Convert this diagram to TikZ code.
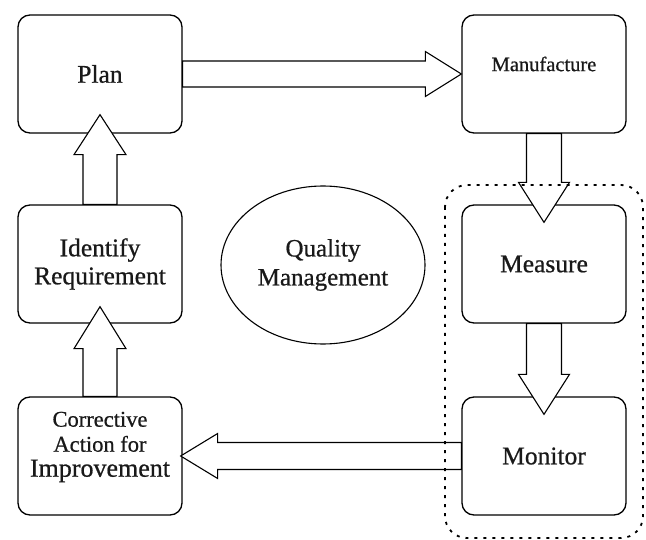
\documentclass[tikz,border=0pt]{standalone}
\usepackage{fontspec}
\setmainfont{Liberation Serif}
\newfontfamily\diagfont{Liberation Serif}[FakeBold=0.7]
\usetikzlibrary{shapes.geometric}

\begin{document}
\begin{tikzpicture}[x=1pt, y=-1pt,
    stagebox/.style={draw, line width=1.3pt, rounded corners=12pt,
      minimum width=164pt, minimum height=118pt, inner sep=0pt, align=center,
      font=\diagfont\fontsize{25.5}{28}\selectfont},
    blockarr/.style={draw, line width=1.1pt, fill=white, line join=miter},
    every node/.style={text=black!90}]
    \useasboundingbox (0,0) rectangle (646,540);

    % the six stages
    \node[stagebox] (plan) at (100,74) {Plan};
    \node[stagebox] (manu) at (544,74) {};
    \node[font=\diagfont\fontsize{20.5}{24}\selectfont] (manutxt)
      at ([shift={(0,-10)}]manu.center) {Manufacture};
    \node[stagebox] (ident) at (100,264) {Identify\\Requirement};
    \node[stagebox] (measure) at (544,264) {Measure};
    \node[stagebox] (corr) at (100,456) {};
    \node[align=center, font=\diagfont\fontsize{22.5}{25}\selectfont] (corrtxt)
      at ([shift={(0,-9)}]corr.center)
      {Corrective\\Action for\\{\fontsize{26}{25}\selectfont Improvement}};
    \node[stagebox] (monitor) at (544,456) {Monitor};

    \node[draw, ellipse, line width=1.1pt, minimum width=204pt,
      minimum height=158pt, inner sep=0pt, align=center,
      font=\diagfont\fontsize{25}{29}\selectfont] (qm) at (323,265)
      {Quality\\Management};

    % block arrows
    \draw[blockarr] ([yshift=13pt]plan.east) -- ([shift={(-36,-13)}]manu.west)
      -- ([shift={(-36,-22.5)}]manu.west) -- (manu.west)
      -- ([shift={(-36,22.5)}]manu.west) -- ([shift={(-36,13)}]manu.west)
      -- ([yshift=-13pt]plan.east) -- cycle;
    \draw[blockarr] ([xshift=-17.5pt]manu.south) -- ([shift={(-17.5,-22)}]measure.north)
      -- ([shift={(-25.5,-22)}]measure.north) -- ([shift={(0,18)}]measure.north)
      -- ([shift={(25.5,-22)}]measure.north) -- ([shift={(17.5,-22)}]measure.north)
      -- ([xshift=17.5pt]manu.south) -- cycle;
    \draw[blockarr] ([xshift=-17.5pt]measure.south) -- ([shift={(-17.5,-22)}]monitor.north)
      -- ([shift={(-25.5,-22)}]monitor.north) -- ([shift={(0,18)}]monitor.north)
      -- ([shift={(25.5,-22)}]monitor.north) -- ([shift={(17.5,-22)}]monitor.north)
      -- ([xshift=17.5pt]measure.south) -- cycle;
    \draw[blockarr] ([yshift=13.5pt]monitor.west) -- ([shift={(35,-13.5)}]corr.east)
      -- ([shift={(35,-22.5)}]corr.east) -- ([xshift=-2pt]corr.east)
      -- ([shift={(35,22.5)}]corr.east) -- ([shift={(35,13.5)}]corr.east)
      -- ([yshift=-13.5pt]monitor.west) -- cycle;
    \draw[blockarr] ([xshift=-17pt]corr.north) -- ([shift={(-17,25)}]ident.south)
      -- ([shift={(-26,25)}]ident.south) -- ([shift={(0,-17)}]ident.south)
      -- ([shift={(26,25)}]ident.south) -- ([shift={(17,25)}]ident.south)
      -- ([xshift=17pt]corr.north) -- cycle;
    \draw[blockarr] ([xshift=-17pt]ident.north) -- ([shift={(-17,21)}]plan.south)
      -- ([shift={(-26,21)}]plan.south) -- ([shift={(0,-19)}]plan.south)
      -- ([shift={(26,21)}]plan.south) -- ([shift={(17,21)}]plan.south)
      -- ([xshift=17pt]ident.north) -- cycle;

    % dotted frame round measure and monitor
    \draw[line width=1.8pt, dash pattern=on 3pt off 6pt, rounded corners=22pt]
      (445,185) rectangle (643,538);
  \end{tikzpicture}
\end{document}
